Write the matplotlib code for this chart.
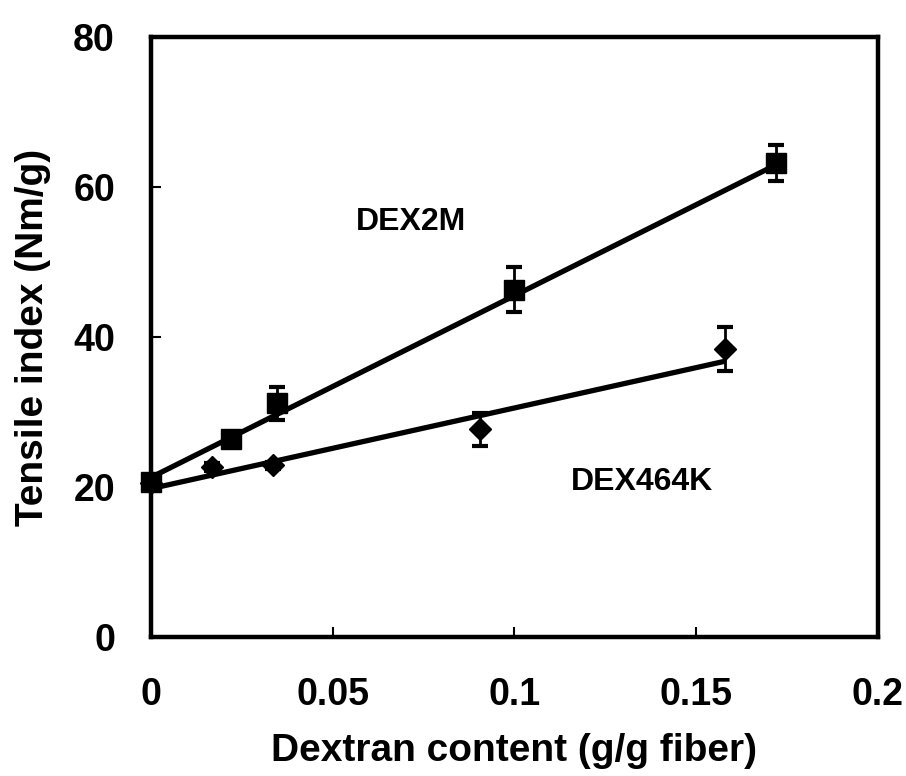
import matplotlib
matplotlib.use("Agg")
import matplotlib.pyplot as plt

# Values
dex2m_x = [0.0, 0.022, 0.0347, 0.0999, 0.172]
dex2m_y = [20.7, 26.4, 31.2, 46.3, 63.2]
dex2m_err = [0.6, 0.6, 2.2, 3.0, 2.4]

dex464k_x = [0.0, 0.0168, 0.0336, 0.0905, 0.158]
dex464k_y = [20.5, 22.7, 22.9, 27.7, 38.4]
dex464k_err = [0.5, 0.5, 0.5, 2.2, 2.9]

# Linear fit lines (end points)
fit2m_x = [0.0, 0.172]
fit2m_y = [21.3, 63.0]
fit464k_x = [0.0, 0.158]
fit464k_y = [19.8, 36.8]

xticks = [0, 0.05, 0.1, 0.15, 0.2]
xticklabels = ["0", "0.05", "0.1", "0.15", "0.2"]
yticks = [0, 20, 40, 60, 80]

labelFont = ["Liberation Sans", "DejaVu Sans"]

fig = plt.figure(figsize=(9.06, 7.76), dpi=100)
ax = fig.add_axes([0.1667, 0.179, 0.8023, 0.773])

ax.plot(fit2m_x, fit2m_y, color="black", lw=3.8, solid_capstyle="butt", zorder=2)
ax.plot(fit464k_x, fit464k_y, color="black", lw=3.8, solid_capstyle="butt", zorder=2)

ax.errorbar(dex2m_x, dex2m_y, yerr=dex2m_err, fmt="s", color="black", ms=14,
            elinewidth=2, capsize=6, capthick=3, zorder=3, clip_on=False)
ax.errorbar(dex464k_x, dex464k_y, yerr=dex464k_err, fmt="D", color="black", ms=11,
            elinewidth=2, capsize=6, capthick=3, zorder=3, clip_on=False)

ax.text(0.0715, 55.3, "DEX2M", fontsize=23, fontweight="bold", family=labelFont,
        ha="center", va="center")
ax.text(0.135, 20.7, "DEX464K", fontsize=23, fontweight="bold", family=labelFont,
        ha="center", va="center")

ax.set_xlim(0, 0.2)
ax.set_ylim(0, 80)
ax.set_xticks(xticks)
ax.set_xticklabels(xticklabels)
ax.set_yticks(yticks)
for lab in ax.get_xticklabels() + ax.get_yticklabels():
    lab.set_family(labelFont)
    lab.set_fontweight("bold")
    lab.set_fontsize(27)
ax.tick_params(axis="x", direction="in", length=7, width=1.5, pad=29)
ax.tick_params(axis="y", direction="in", length=7, width=1.5, pad=26)

for s in ax.spines.values():
    s.set_linewidth(3.2)

ax.set_xlabel("Dextran content (g/g fiber)", fontsize=28, fontweight="bold",
              family=labelFont, labelpad=14)
ax.set_ylabel("Tensile index (Nm/g)", fontsize=28, fontweight="bold",
              family=labelFont, labelpad=16)

fig.savefig("out.png", dpi=100)
